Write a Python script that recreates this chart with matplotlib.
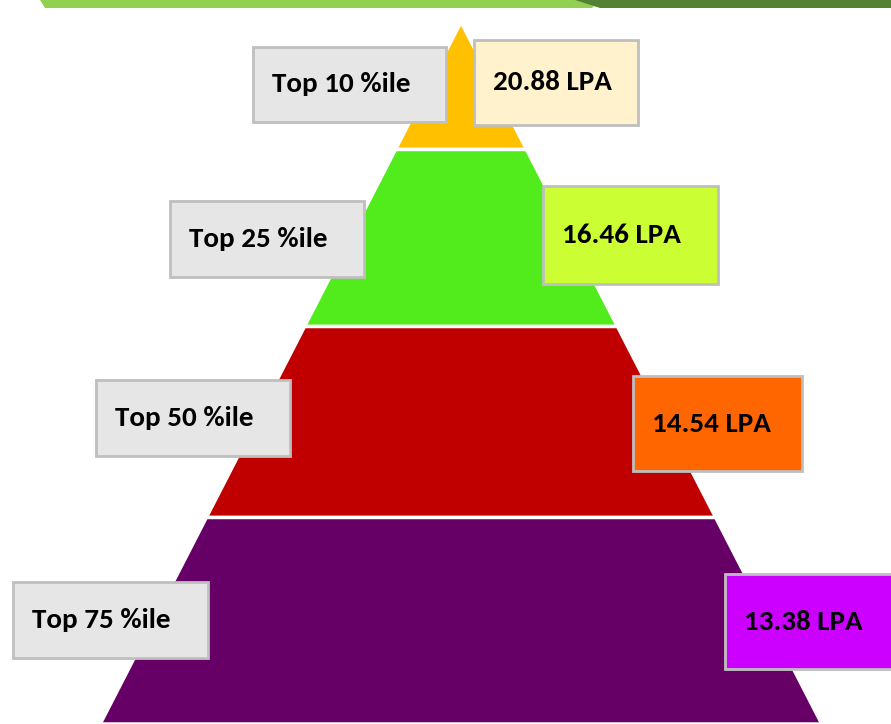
import matplotlib.pyplot as plt
from matplotlib.patches import Polygon, Rectangle

# datos
etiquetas = ["Top 10 %ile", "Top 25 %ile", "Top 50 %ile", "Top 75 %ile"]
valores = [20.88, 16.46, 14.54, 13.38]
colores_capa = ["#FFC000", "#52EB1C", "#C00000", "#660066"]
colores_valor = ["#FFF2CC", "#CCFF33", "#FF6600", "#CC00FF"]

# geometria (pixeles)
W, H = 891, 724
apex_x, apex_y = 461, 22
pend = 0.514
cortes = [22, 149.5, 326.5, 517.5, 724]
cajas_izq = [(253, 47, 193, 75), (170, 201, 194, 76), (96, 380, 194, 76), (13, 582, 195, 76)]
cajas_der = [(474, 40, 164, 85), (543, 186, 175, 98), (633, 376, 169, 95), (725, 574, 180, 95)]

fig = plt.figure(figsize=(W / 100, H / 100), dpi=100)
ax = fig.add_axes([0, 0, 1, 1])
ax.set_xlim(0, W)
ax.set_ylim(H, 0)
ax.axis("off")

# barra superior
ax.add_patch(Polygon([(40, 0), (600, 0), (592, 8), (45, 8)], closed=True, color="#92D050", lw=0))
ax.add_patch(Polygon([(575, 0), (W, 0), (W, 8), (600, 8)], closed=True, color="#548235", lw=0))

def ancho(y):
    return pend * (y - apex_y)

for i in range(4):
    y0, y1 = cortes[i], cortes[i + 1]
    pts = [(apex_x - ancho(y0), y0), (apex_x + ancho(y0), y0),
           (apex_x + ancho(y1), y1), (apex_x - ancho(y1), y1)]
    ax.add_patch(Polygon(pts, closed=True, facecolor=colores_capa[i],
                         edgecolor="white", lw=2.5, joinstyle="miter"))

fuente = dict(family=["Carlito", "DejaVu Sans"], weight="bold",
              size=21, color="black")

for i in range(4):
    x, y, w, h = cajas_izq[i]
    ax.add_patch(Rectangle((x, y), w, h, facecolor="#E6E6E6", edgecolor="#BFBFBF", lw=2))
    ax.text(x + 19, y + h / 2, etiquetas[i], ha="left", va="center", **fuente)
    x, y, w, h = cajas_der[i]
    ax.add_patch(Rectangle((x, y), w, h, facecolor=colores_valor[i], edgecolor="#BFBFBF", lw=2))
    ax.text(x + 19, y + h / 2, f"{valores[i]:.2f} LPA", ha="left", va="center", **fuente)

fig.savefig("out.png", dpi=100)
